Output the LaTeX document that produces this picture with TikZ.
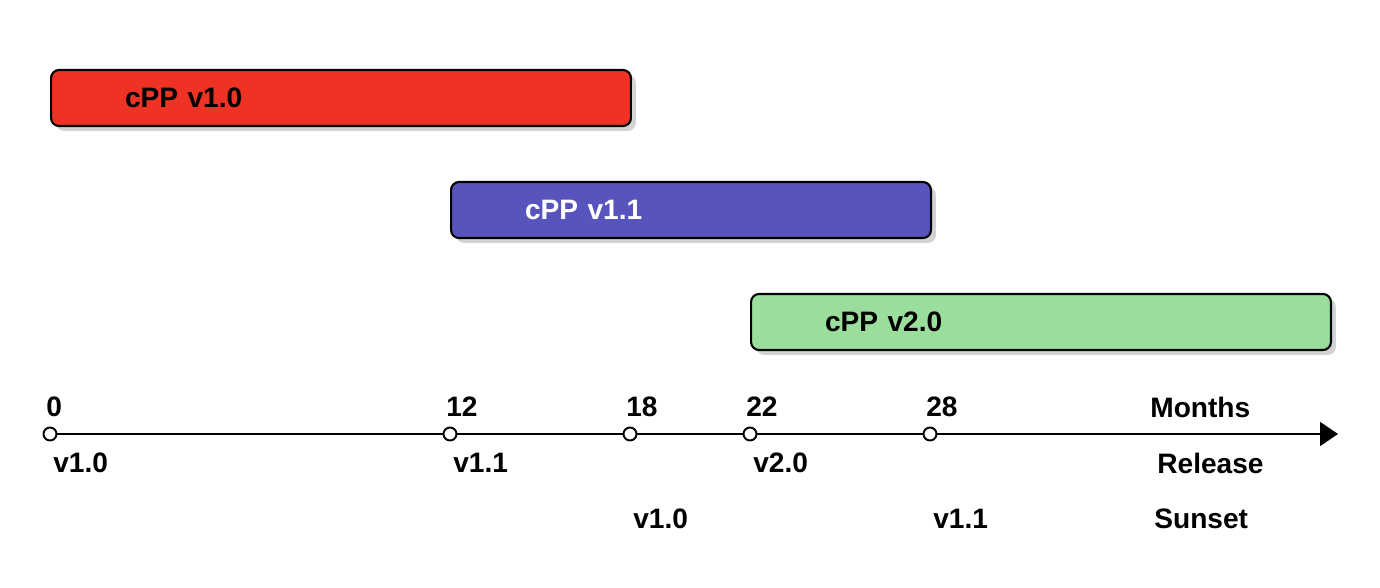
\documentclass[tikz,border=0pt]{standalone}
\usepackage{fontspec}
\setmainfont{Liberation Sans}
\usetikzlibrary{arrows.meta,shadows}
\definecolor{cppred}{RGB}{238,51,36}
\definecolor{cppblue}{RGB}{87,85,189}
\definecolor{cppgreen}{RGB}{155,222,155}
\tikzset{
    font=\fontsize{16}{19}\selectfont\bfseries, % bold text everywhere
    }

\begin{document}
\begin{tikzpicture}[x=0.02cm, y=-0.02cm,
barnode/.style={draw=black, line width=1.2pt, rounded corners=0.16cm, minimum height=1.12cm, inner xsep=1.48cm, align=left, anchor=west, drop shadow={shadow xshift=0.1cm, shadow yshift=-0.1cm, opacity=0.35}},
ticknode/.style={circle, draw=black, fill=white, line width=1.1pt, minimum size=0.26cm, inner sep=0pt},
textnode/.style={inner sep=0pt, anchor=west},
axisline/.style={line width=1.1pt},
]
\useasboundingbox (0,0) rectangle (1380,588);
\node[barnode, fill=cppred, text width=8.64cm] (cpp10) at (50,98) {cPP v1.0};
\node[barnode, fill=cppblue, text=white, text width=6.64cm] (cpp11) at (450,210) {cPP v1.1};
\node[barnode, fill=cppgreen, text width=8.64cm] (cpp20) at (750,322) {cPP v2.0};

\coordinate (axisend) at (1338,434);
\foreach \m/\x in {0/50,12/450,18/630,22/750,28/930}
    \node[ticknode] (t\m) at (\x,434) {};
\foreach \a/\b in {0/12,12/18,18/22,22/28}
    \draw[axisline] (t\a) -- (t\b);
\draw[axisline,-{Triangle[length=0.36cm,width=0.48cm]}] (t28) -- (axisend);

\foreach \m/\x in {0/50,12/450,18/630,22/750,28/930}
    \node[textnode] (m\m) at (\x-4,407) {\m};
\foreach \m/\x/\v in {0/50/v1.0,12/450/v1.1,22/750/v2.0}
    \node[textnode] (r\m) at (\x+3,463) {\v};
\foreach \m/\x/\v in {18/630/v1.0,28/930/v1.1}
    \node[textnode] (s\m) at (\x+3,519) {\v};

\node[textnode] (months) at (1150,407) {Months};
\node[textnode] (release) at (1157,463) {Release};
\node[textnode] (sunset) at (1154,519) {Sunset};
\end{tikzpicture}
\end{document}
